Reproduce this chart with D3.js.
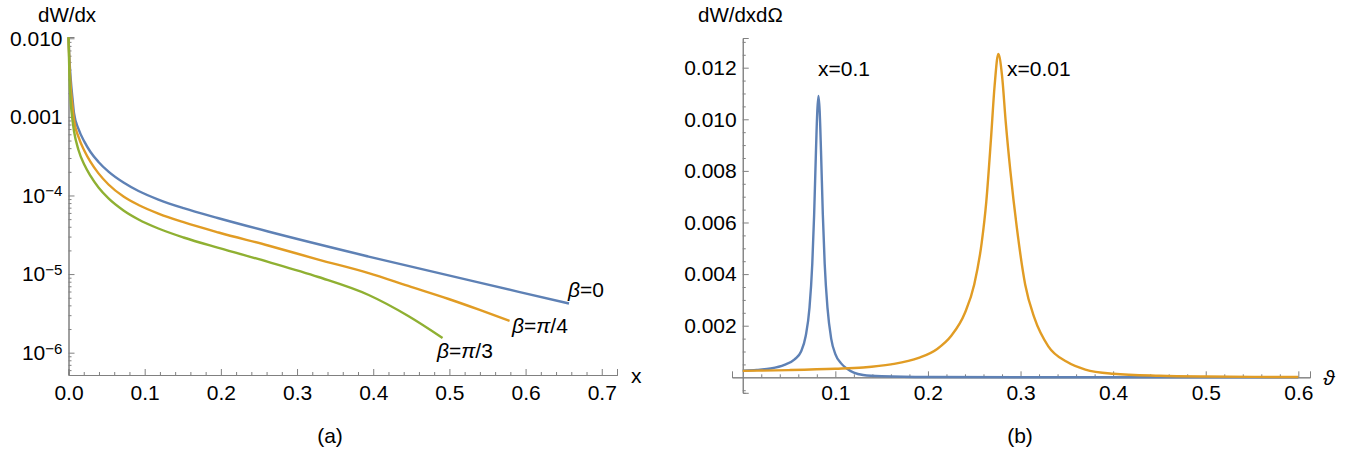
<!DOCTYPE html>
<html>
<head>
<meta charset="utf-8">
<script src="https://cdn.jsdelivr.net/npm/d3@7"></script>
<style>
body { margin: 0; background: #fff; }
svg { display: block; font-family: "Liberation Sans", Arial, sans-serif; }
</style>
</head>
<body>
<svg id="board" width="1363" height="456"></svg>
<script>
// panel (a): dW/dx against x, log scale
let betaZeroX = [0, 0.0013, 0.003, 0.0052, 0.0072, 0.0131, 0.021, 0.0289, 0.0394, 0.0525, 0.0722, 0.0919, 0.118, 0.151, 0.197, 0.262, 0.394, 0.591, 0.657]
let betaZeroW = [1.03e-2, 5.3e-3, 2.95e-3, 1.74e-3, 1.12e-3, 7.02e-4, 4.8e-4, 3.57e-4, 2.67e-4, 2.01e-4, 1.46e-4, 1.14e-4, 8.87e-5, 6.89e-5, 5.13e-5, 3.48e-5, 1.67e-5, 5.95e-6, 4.22e-6]

let betaQuarterX = [0, 0.0013, 0.003, 0.0052, 0.0072, 0.0131, 0.021, 0.0289, 0.0394, 0.0525, 0.0722, 0.0919, 0.118, 0.151, 0.197, 0.262, 0.328, 0.394, 0.446, 0.499, 0.538, 0.579]
let betaQuarterW = [1.03e-2, 4.45e-3, 2.33e-3, 1.38e-3, 9.14e-4, 5.55e-4, 3.68e-4, 2.67e-4, 1.91e-4, 1.38e-4, 9.7e-5, 7.57e-5, 5.89e-5, 4.57e-5, 3.38e-5, 2.31e-5, 1.53e-5, 1.03e-5, 7.06e-6, 4.82e-6, 3.55e-6, 2.53e-6]

let betaThirdX = [0, 0.0013, 0.003, 0.0052, 0.0072, 0.0131, 0.021, 0.0289, 0.0394, 0.0525, 0.0722, 0.0919, 0.118, 0.151, 0.197, 0.262, 0.328, 0.394, 0.446, 0.491]
let betaThirdW = [1.03e-2, 3.13e-3, 1.5e-3, 9.14e-4, 6.62e-4, 3.79e-4, 2.44e-4, 1.77e-4, 1.26e-4, 9.16e-5, 6.44e-5, 4.95e-5, 3.8e-5, 2.92e-5, 2.15e-5, 1.43e-5, 9.18e-6, 5.42e-6, 2.93e-6, 1.54e-6]

let leftXTicks = [0, 0.1, 0.2, 0.3, 0.4, 0.5, 0.6, 0.7]
let leftYTicks = [1e-2, 1e-3, 1e-4, 1e-5, 1e-6]
let betaLabels = ['0', 'π/4', 'π/3']

// panel (b): dW/dx dOmega against theta
let thetaX01 = [0, 0.015, 0.03, 0.045, 0.056, 0.063, 0.068, 0.0721, 0.0751, 0.0771, 0.0791, 0.0805, 0.0818, 0.0831, 0.0845, 0.0865, 0.0885, 0.0915, 0.0955, 0.1, 0.106, 0.112, 0.12, 0.13, 0.15, 0.2, 0.3, 0.45, 0.6]
let valueX01 = [0.00026, 0.00029, 0.00034, 0.00048, 0.0007, 0.001, 0.0016, 0.0027, 0.0044, 0.0063, 0.0088, 0.0103, 0.0109, 0.0103, 0.0088, 0.0063, 0.0044, 0.0027, 0.0015, 0.0009, 0.00055, 0.00035, 0.00018, 0.00009, 0.00004, 0.00001, 0.000003, 0.000001, 0]

let thetaX001 = [0, 0.05, 0.1, 0.13, 0.16, 0.19, 0.21, 0.225, 0.24, 0.25, 0.258, 0.263, 0.268, 0.272, 0.276, 0.28, 0.284, 0.289, 0.296, 0.305, 0.315, 0.33, 0.35, 0.37, 0.4, 0.45, 0.5, 0.6]
let valueX001 = [0.00025, 0.00028, 0.00033, 0.00038, 0.0005, 0.00075, 0.0011, 0.0016, 0.0025, 0.0036, 0.0052, 0.0068, 0.0092, 0.0113, 0.01253, 0.0117, 0.0099, 0.008, 0.0058, 0.0036, 0.0023, 0.0012, 0.0006, 0.0003, 0.00014, 0.00006, 0.00003, 0.00001]

let rightXTicks = [0.1, 0.2, 0.3, 0.4, 0.5, 0.6]
let rightYTicks = [0.002, 0.004, 0.006, 0.008, 0.010, 0.012]

let blue = '#5E81B5'
let orange = '#E19C24'
let green = '#8FB032'
let axisColor = '#808080'
let fontSize = 21

let board = d3.select('#board')

// ---------- panel (a)
let xScaleA = d3.scaleLinear().domain([0, 0.72]).range([68.5, 617])
let yScaleA = d3.scaleLog().domain([5.2e-7, 1.038e-2]).range([375, 37])

let minorLog = []
for (let e = -7; e <= -2; e++) {
    for (let k = 2; k <= 9; k++) {
        let v = k * Math.pow(10, e)
        if (v > 5.2e-7 && v < 1.038e-2) minorLog.push(v)
    }
}
let minorXA = d3.range(1, 36).map(i => i * 0.02).filter(v => Math.abs(v * 10 - Math.round(v * 10)) > 1e-6)

let axA = board.append('g').attr('class', 'panel-a')

axA.append('g')
    .attr('transform', 'translate(0,375)')
    .call(d3.axisBottom(xScaleA).tickValues(minorXA).tickSize(-3).tickFormat(''))
axA.append('g')
    .attr('transform', 'translate(0,375)')
    .call(d3.axisBottom(xScaleA).tickValues(leftXTicks).tickSize(-6).tickPadding(10).tickFormat(d3.format('.1f')))

axA.append('g')
    .attr('transform', 'translate(68.5,0)')
    .call(d3.axisLeft(yScaleA).tickValues(minorLog).tickSize(-3).tickFormat(''))
let gyA = axA.append('g')
    .attr('transform', 'translate(68.5,0)')
    .call(d3.axisLeft(yScaleA).tickValues(leftYTicks).tickSize(-6).tickPadding(6)
        .tickFormat(d => d >= 1e-3 ? d3.format('.3f')(d) : ''))

gyA.selectAll('.tick text').each(function(d) {
    let e = Math.round(Math.log10(d))
    if (e < -3) {
        let t = d3.select(this)
        t.text('10')
        t.append('tspan').attr('dy', '-0.42em').attr('font-size', '0.72em').text('\u2212' + (-e))
    }
})

let lineA = d3.line()
    .x(d => xScaleA(d[0]))
    .y(d => yScaleA(d[1]))
    .curve(d3.curveMonotoneX)

let seriesA = [
    {x: betaZeroX, w: betaZeroW, c: blue},
    {x: betaQuarterX, w: betaQuarterW, c: orange},
    {x: betaThirdX, w: betaThirdW, c: green}
]
seriesA.forEach(s => {
    axA.append('path')
        .datum(s.x.map((x, i) => [x, s.w[i]]))
        .attr('fill', 'none')
        .attr('stroke', s.c)
        .attr('stroke-width', 2.4)
        .attr('d', lineA)
})

// beta labels near the ends of the curves
let betaLabelPos = [[568, 297], [512, 333], [437, 358]]
betaLabels.forEach((b, i) => {
    let t = axA.append('text')
        .attr('x', betaLabelPos[i][0])
        .attr('y', betaLabelPos[i][1])
        .attr('font-size', fontSize)
    t.append('tspan').attr('font-style', 'italic').text('β')
    if (b === '0') {
        t.append('tspan').text('=0')
    } else {
        t.append('tspan').text('=')
        t.append('tspan').attr('font-style', 'italic').text('π')
        t.append('tspan').text(b.slice(1))
    }
})

axA.append('text').attr('x', 38).attr('y', 22).attr('font-size', 20.5).text('dW/dx')
axA.append('text').attr('x', 631).attr('y', 383).attr('font-size', fontSize).text('x')
axA.append('text').attr('x', 330).attr('y', 443).attr('font-size', fontSize).attr('text-anchor', 'middle').text('(a)')

// ---------- panel (b)
let xScaleB = d3.scaleLinear().domain([-0.0116, 0.6126]).range([732, 1310])
let yScaleB = d3.scaleLinear().domain([-0.0006, 0.01315]).range([392.8, 38])

let minorXB = d3.range(1, 31).map(i => i * 0.02).filter(v => Math.abs(v * 10 - Math.round(v * 10)) > 1e-6)
let minorYB = d3.range(-1, 27).map(i => i * 0.0005).filter(v => Math.abs(v * 500 - Math.round(v * 500)) > 1e-6)

let axB = board.append('g').attr('class', 'panel-b')

axB.append('g')
    .attr('transform', 'translate(0,' + yScaleB(0) + ')')
    .call(d3.axisBottom(xScaleB).tickValues(minorXB).tickSize(-3).tickFormat(''))
axB.append('g')
    .attr('transform', 'translate(0,' + yScaleB(0) + ')')
    .call(d3.axisBottom(xScaleB).tickValues(rightXTicks).tickSize(-6).tickPadding(8).tickFormat(d3.format('.1f')))

axB.append('g')
    .attr('transform', 'translate(' + xScaleB(0) + ',0)')
    .call(d3.axisLeft(yScaleB).tickValues(minorYB).tickSize(-3).tickFormat(''))
axB.append('g')
    .attr('transform', 'translate(' + xScaleB(0) + ',0)')
    .call(d3.axisLeft(yScaleB).tickValues(rightYTicks).tickSize(-6).tickPadding(6).tickFormat(d3.format('.3f')))

let lineB = d3.line()
    .x(d => xScaleB(d[0]))
    .y(d => yScaleB(d[1]))
    .curve(d3.curveMonotoneX)

let seriesB = [
    {x: thetaX01, v: valueX01, c: blue},
    {x: thetaX001, v: valueX001, c: orange}
]
seriesB.forEach(s => {
    axB.append('path')
        .datum(s.x.map((x, i) => [x, s.v[i]]))
        .attr('fill', 'none')
        .attr('stroke', s.c)
        .attr('stroke-width', 2.4)
        .attr('d', lineB)
})

axB.append('text').attr('x', 818).attr('y', 76).attr('font-size', fontSize).text('x=0.1')
axB.append('text').attr('x', 1007).attr('y', 76).attr('font-size', fontSize).text('x=0.01')
axB.append('text').attr('x', 698).attr('y', 22).attr('font-size', 20.5).text('dW/dxdΩ')
axB.append('text').attr('x', 1323).attr('y', 385).attr('font-size', fontSize).attr('font-style', 'italic').text('ϑ')
axB.append('text').attr('x', 1020).attr('y', 443).attr('font-size', fontSize).attr('text-anchor', 'middle').text('(b)')

// common axis styling
board.selectAll('.domain').attr('stroke', axisColor)
board.selectAll('.tick line').attr('stroke', axisColor)
board.selectAll('.tick text').attr('fill', '#000').attr('font-size', fontSize).attr('font-family', '"Liberation Sans", Arial, sans-serif')
</script>
</body>
</html>
